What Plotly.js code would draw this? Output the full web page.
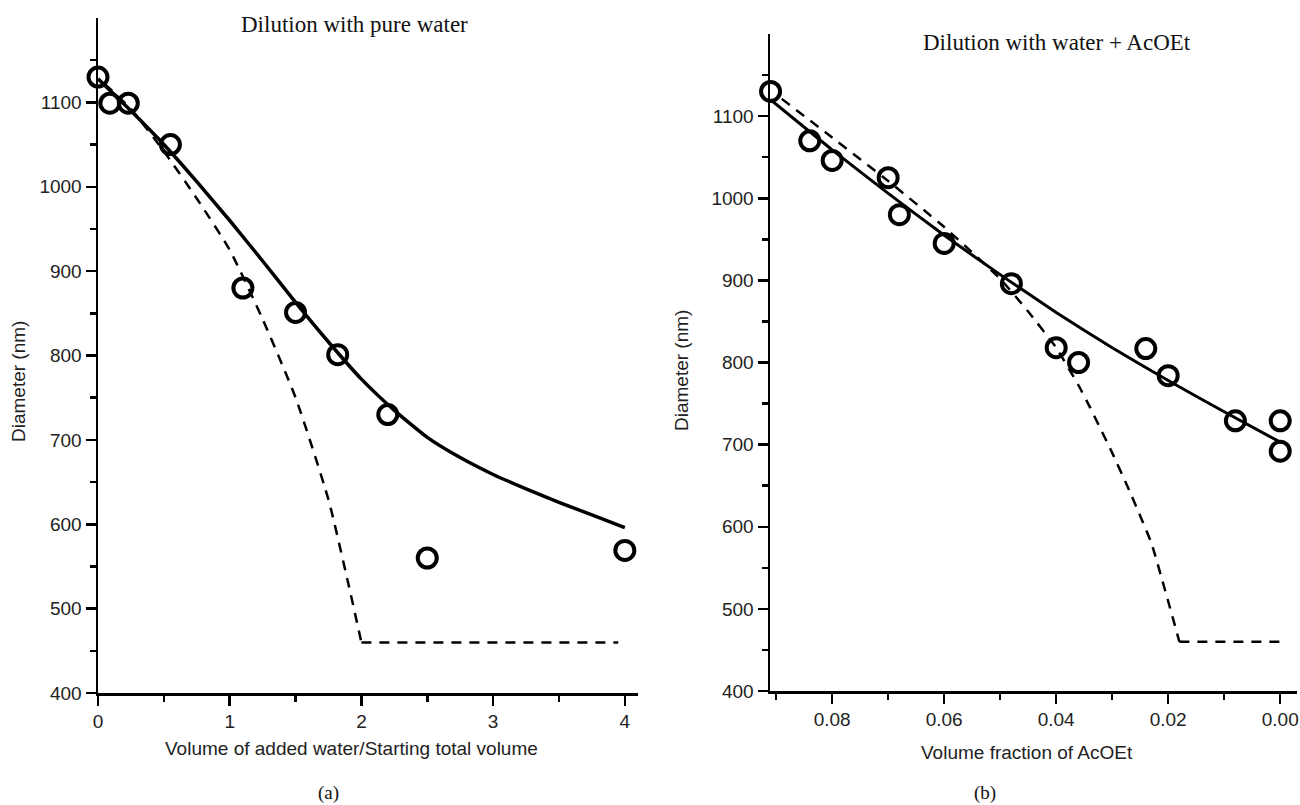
<!DOCTYPE html>
<html>
<head>
<meta charset="utf-8">
<script src="https://cdn.plot.ly/plotly-3.0.1.min.js"></script>
<style>
  html, body { margin: 0; padding: 0; background: #fff; }
  #chart { width: 1300px; height: 805px; }
</style>
</head>
<body>
<div id="chart"></div>
<script>
// ---- Panel (a): dilution with pure water ----
const leftMeasX = [0, 0.09, 0.23, 0.55, 1.1, 1.5, 1.82, 2.2, 2.5, 4.0];
const leftMeasY = [1130, 1099, 1099, 1050, 880, 851, 801, 730, 560, 569];
const leftFitX = [0, 0.25, 0.5, 0.75, 1.0, 1.25, 1.5, 1.75, 2.0, 2.25, 2.5, 2.75, 3.0, 3.25, 3.5, 3.75, 4.0];
const leftFitY = [1128, 1090, 1050, 1006, 960, 912, 863, 816, 772, 735, 703, 679, 659, 642, 626, 611, 596];
const leftModelX = [0.05, 0.25, 0.5, 0.75, 1.0, 1.25, 1.5, 1.75, 1.9, 2.0];
const leftModelY = [1122, 1092, 1042, 986, 925, 843, 750, 629, 530, 460];
const leftFlatX = [2.0, 3.95];
const leftFlatY = [460, 460];
const leftXTicks = [0, 1, 2, 3, 4];
const leftXMinor = [0.5, 1.5, 2.5, 3.5];

// ---- Panel (b): dilution with water + AcOEt ----
const rightMeasX = [0.091, 0.084, 0.080, 0.070, 0.068, 0.060, 0.048, 0.040, 0.036, 0.024, 0.020, 0.008, 0.000, 0.000];
const rightMeasY = [1130, 1070, 1046, 1025, 980, 945, 896, 818, 800, 817, 784, 729, 729, 692];
const rightFitX = [0.091, 0.08, 0.07, 0.06, 0.05, 0.04, 0.03, 0.02, 0.01, 0.0];
const rightFitY = [1120, 1059, 1006, 955, 907, 861, 818, 778, 740, 703];
const rightModelX = [0.089, 0.08, 0.07, 0.06, 0.05, 0.045, 0.04, 0.036, 0.034, 0.03, 0.027, 0.023, 0.018];
const rightModelY = [1121, 1074, 1021, 965, 902, 862, 818, 772, 746, 690, 645, 580, 460];
const rightFlatX = [0.018, 0.0];
const rightFlatY = [460, 460];
const rightXTicks = [0.08, 0.06, 0.04, 0.02, 0.00];
const rightXTickText = ['0.08', '0.06', '0.04', '0.02', '0.00'];
const rightXMinor = [0.09, 0.07, 0.05, 0.03, 0.01];

const yTicks = [400, 500, 600, 700, 800, 900, 1000, 1100];
const yMinor = [450, 550, 650, 750, 850, 950, 1050, 1150];

const titleA = 'Dilution with pure water';
const titleB = 'Dilution with water + AcOEt';
const xTitleA = 'Volume of added water/Starting total volume';
const xTitleB = 'Volume fraction of AcOEt';
const yTitle = 'Diameter (nm)';

const W = 1300, H = 805;
const px = v => v / W;
const py = v => 1 - v / H;

const SANS = 'Liberation Sans, Arial, sans-serif';
const SERIF = 'Liberation Serif, Times New Roman, serif';

const markerStyle = { symbol: 'circle-open', size: 19, color: '#000', line: { width: 4, color: '#000' } };
const dashStyle = { color: '#000', width: 2.5, dash: '10px,8px' };

const traces = [
  { x: leftFitX, y: leftFitY, xaxis: 'x', yaxis: 'y', mode: 'lines', line: { color: '#000', width: 3.5, shape: 'spline', smoothing: 0.5 } },
  { x: leftModelX, y: leftModelY, xaxis: 'x', yaxis: 'y', mode: 'lines', line: Object.assign({ shape: 'spline', smoothing: 0.6 }, dashStyle) },
  { x: leftFlatX, y: leftFlatY, xaxis: 'x', yaxis: 'y', mode: 'lines', line: dashStyle },
  { x: leftMeasX, y: leftMeasY, xaxis: 'x', yaxis: 'y', mode: 'markers', marker: markerStyle, cliponaxis: false },

  { x: rightFitX, y: rightFitY, xaxis: 'x2', yaxis: 'y2', mode: 'lines', line: { color: '#000', width: 3, shape: 'spline', smoothing: 0.5 } },
  { x: rightModelX, y: rightModelY, xaxis: 'x2', yaxis: 'y2', mode: 'lines', line: Object.assign({ shape: 'spline', smoothing: 0.4 }, dashStyle) },
  { x: rightFlatX, y: rightFlatY, xaxis: 'x2', yaxis: 'y2', mode: 'lines', line: dashStyle },
  { x: rightMeasX, y: rightMeasY, xaxis: 'x2', yaxis: 'y2', mode: 'markers', marker: markerStyle, cliponaxis: false }
];

function xAxis(domain, range, tickvals, ticktext, minorvals) {
  const a = {
    domain: domain, range: range, autorange: false,
    showline: true, linecolor: '#000', linewidth: 2.5,
    showgrid: false, zeroline: false,
    ticks: 'outside', ticklen: 10, tickwidth: 2.5, tickcolor: '#000',
    tickmode: 'array', tickvals: tickvals,
    tickfont: { family: SANS, size: 19, color: '#222' },
    minor: { tickvals: minorvals, ticks: 'outside', ticklen: 6, tickwidth: 2.5, tickcolor: '#000', showgrid: false },
    fixedrange: true
  };
  if (ticktext) a.ticktext = ticktext;
  return a;
}
function yAxis(domain, anchor) {
  return {
    domain: domain, range: [400, 1200], autorange: false, anchor: anchor,
    showline: true, linecolor: '#000', linewidth: 2.5,
    showgrid: false, zeroline: false,
    ticks: 'outside', ticklen: 10, tickwidth: 2.5, tickcolor: '#000',
    tickmode: 'array', tickvals: yTicks,
    tickfont: { family: SANS, size: 19, color: '#222' },
    minor: { tickvals: yMinor, ticks: 'outside', ticklen: 6, tickwidth: 2.5, tickcolor: '#000', showgrid: false },
    fixedrange: true
  };
}

const layout = {
  width: W, height: H,
  margin: { l: 0, r: 0, t: 0, b: 0 },
  paper_bgcolor: '#fff', plot_bgcolor: '#fff',
  showlegend: false,
  xaxis: Object.assign(xAxis([px(98), px(638)], [0, 4.1], leftXTicks, null, leftXMinor), { anchor: 'y' }),
  yaxis: yAxis([1 - 693 / H, 1 - 18 / H], 'x'),
  xaxis2: Object.assign(xAxis([px(770), px(1297)], [0.0911, -0.003], rightXTicks, rightXTickText, rightXMinor), { anchor: 'y2' }),
  yaxis2: yAxis([1 - 691 / H, 1 - 34 / H], 'x2'),
  annotations: [
    { text: titleA, x: px(355), y: py(25), xref: 'paper', yref: 'paper', xanchor: 'center', yanchor: 'middle', showarrow: false, font: { family: SERIF, size: 23, color: '#111' } },
    { text: titleB, x: px(1057), y: py(42), xref: 'paper', yref: 'paper', xanchor: 'center', yanchor: 'middle', showarrow: false, font: { family: SERIF, size: 23, color: '#111' } },
    { text: xTitleA, x: px(351), y: py(748), xref: 'paper', yref: 'paper', xanchor: 'center', yanchor: 'middle', showarrow: false, font: { family: SANS, size: 19, color: '#222' } },
    { text: xTitleB, x: px(1027), y: py(752), xref: 'paper', yref: 'paper', xanchor: 'center', yanchor: 'middle', showarrow: false, font: { family: SANS, size: 19, color: '#222' } },
    { text: yTitle, x: px(18), y: py(382), xref: 'paper', yref: 'paper', xanchor: 'center', yanchor: 'middle', textangle: -90, showarrow: false, font: { family: SANS, size: 19, color: '#222' } },
    { text: yTitle, x: px(681), y: py(371), xref: 'paper', yref: 'paper', xanchor: 'center', yanchor: 'middle', textangle: -90, showarrow: false, font: { family: SANS, size: 19, color: '#222' } },
    { text: '(a)', x: px(328), y: 0, xref: 'paper', yref: 'paper', xanchor: 'center', yanchor: 'bottom', borderpad: 0, showarrow: false, font: { family: SERIF, size: 19, color: '#111' } },
    { text: '(b)', x: px(985), y: 0, xref: 'paper', yref: 'paper', xanchor: 'center', yanchor: 'bottom', borderpad: 0, showarrow: false, font: { family: SERIF, size: 19, color: '#111' } }
  ]
};

Plotly.newPlot('chart', traces, layout, { staticPlot: true, displayModeBar: false });
</script>
</body>
</html>
